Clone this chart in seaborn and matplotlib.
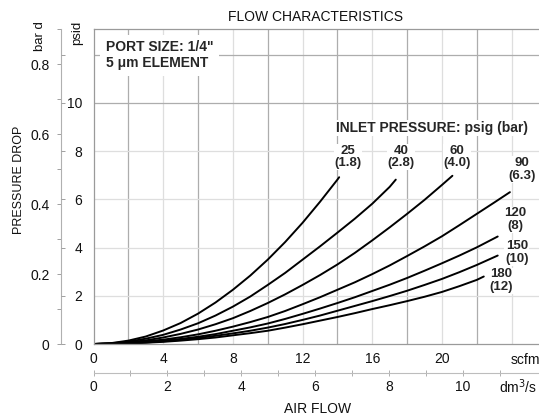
import numpy as np
import pandas as pd
import matplotlib
matplotlib.use("Agg")
import matplotlib.pyplot as plt
import seaborn as sns

# flow (scfm) and pressure drop (psid), one pair of lists per inlet pressure
flow_25 = [0, 1, 2, 3, 4, 5, 6, 7, 8, 9, 10, 11, 12, 13, 14, 14.1]
drop_25 = [0, 0.035, 0.14, 0.31, 0.56, 0.87, 1.26, 1.72, 2.25, 2.84, 3.5,
           4.23, 5.03, 5.9, 6.82, 6.92]
flow_40 = [0, 1, 2, 3, 4, 5, 6, 7, 8, 9, 10, 11, 12, 13, 14, 15, 16, 17, 17.35]
drop_40 = [0, 0.025, 0.1, 0.22, 0.38, 0.6, 0.86, 1.18, 1.55, 1.97, 2.45,
           2.95, 3.5, 4.05, 4.62, 5.2, 5.82, 6.52, 6.82]
flow_60 = [0, 1, 2, 3, 4, 5, 6, 7, 8, 9, 10, 11, 12, 13, 14, 15, 16, 17, 18,
           19, 20, 20.6]
drop_60 = [0, 0.018, 0.07, 0.15, 0.27, 0.42, 0.6, 0.82, 1.07, 1.37, 1.7,
           2.06, 2.45, 2.86, 3.3, 3.78, 4.3, 4.84, 5.4, 5.98, 6.6, 6.98]
flow_90 = [0, 1, 2, 3, 4, 5, 6, 7, 8, 9, 10, 11, 12, 13, 14, 15, 16, 17, 18,
           19, 20, 21, 22, 23, 23.9]
drop_90 = [0, 0.012, 0.05, 0.11, 0.18, 0.28, 0.4, 0.55, 0.72, 0.91, 1.12,
           1.37, 1.65, 1.94, 2.25, 2.56, 2.9, 3.26, 3.65, 4.05, 4.47, 4.93,
           5.4, 5.87, 6.3]
flow_120 = [0, 1, 2, 3, 4, 5, 6, 7, 8, 9, 10, 11, 12, 13, 14, 15, 16, 17, 18,
            19, 20, 21, 22, 23.2]
drop_120 = [0, 0.01, 0.04, 0.085, 0.14, 0.21, 0.3, 0.41, 0.55, 0.69, 0.85,
            1.04, 1.25, 1.47, 1.7, 1.94, 2.2, 2.46, 2.74, 3.04, 3.35, 3.67,
            4.01, 4.46]
flow_150 = [0, 1, 2, 3, 4, 5, 6, 7, 8, 9, 10, 11, 12, 13, 14, 15, 16, 17, 18,
            19, 20, 21, 22, 23.2]
drop_150 = [0, 0.008, 0.03, 0.065, 0.11, 0.17, 0.25, 0.34, 0.44, 0.55, 0.68,
            0.83, 1.0, 1.18, 1.38, 1.58, 1.78, 1.99, 2.21, 2.45, 2.7, 2.98,
            3.28, 3.67]
flow_180 = [0, 1, 2, 3, 4, 5, 6, 7, 8, 9, 10, 11, 12, 13, 14, 15, 16, 17, 18,
            19, 20, 21, 22, 22.4]
drop_180 = [0, 0.006, 0.025, 0.05, 0.09, 0.14, 0.2, 0.27, 0.36, 0.45, 0.55,
            0.68, 0.82, 0.97, 1.12, 1.28, 1.45, 1.61, 1.78, 1.96, 2.16, 2.4,
            2.66, 2.8]

inlet_psig = ["25", "40", "60", "90", "120", "150", "180"]
inlet_bar = ["(1.8)", "(2.8)", "(4.0)", "(6.3)", "(8)", "(10)", "(12)"]

psid_ticks = [0, 2, 4, 6, 8, 10]
bar_ticks = [0, 0.2, 0.4, 0.6, 0.8]
scfm_ticks = [0, 4, 8, 12, 16, 20]
dm3s_ticks = [0, 2, 4, 6, 8, 10]

flows = [flow_25, flow_40, flow_60, flow_90, flow_120, flow_150, flow_180]
drops = [drop_25, drop_40, drop_60, drop_90, drop_120, drop_150, drop_180]
df = pd.concat([pd.DataFrame({"scfm": f, "psid": d, "inlet": p})
                for f, d, p in zip(flows, drops, inlet_psig)])

PSI_PER_BAR = 14.5038
SCFM_PER_DM3S = 2.1189

W, H = 539, 415

sns.set_style("white")
plt.rcParams['font.family'] = ['Liberation Sans', 'DejaVu Sans']

fig = plt.figure(figsize=(W / 100, H / 100), dpi=100)
ax = fig.add_axes([93.5 / W, 71 / H, 445.5 / W, 315 / H])
ax.set_xlim(0, 25.57)
ax.set_ylim(0, 13.07)

# grid, darker and lighter lines
for x in [2, 6, 10, 14, 18, 22]:
    ax.axvline(x, color='#adadad', lw=0.9, zorder=0.5)
for x in [4, 8, 12, 16, 20, 24]:
    ax.axvline(x, color='#dedede', lw=0.9, zorder=0.5)
for y in [10, 12]:
    ax.axhline(y, color='#adadad', lw=0.9, zorder=0.5)
for y in [2, 4, 6, 8]:
    ax.axhline(y, color='#dedede', lw=0.9, zorder=0.5)

sns.lineplot(data=df, x="scfm", y="psid", hue="inlet", units="inlet",
             estimator=None, sort=False, palette=["black"] * 7,
             linewidth=1.4, legend=False, ax=ax, zorder=2)

ax.spines['right'].set_visible(False)
for s in ['top', 'left', 'bottom']:
    ax.spines[s].set_color('#9a9a9a')
    ax.spines[s].set_linewidth(0.9)

ax.set_xlabel("")
ax.set_ylabel("")
ax.set_yticks(psid_ticks)
ax.set_yticklabels([str(v) for v in psid_ticks])
ax.set_xticks(scfm_ticks)
ax.set_xticklabels([str(v) for v in scfm_ticks])
ax.tick_params(axis='y', length=0, pad=8, labelsize=10, colors='#111111')
ax.tick_params(axis='x', length=0, pad=6, labelsize=10, colors='#111111')

# bar d scale on its own line left of the psid labels
ax_bar = ax.secondary_yaxis(-33 / 445.5, functions=(lambda p: p / PSI_PER_BAR,
                                                     lambda b: b * PSI_PER_BAR))
ax_bar.set_yticks(bar_ticks)
ax_bar.set_yticklabels(["0", "0.2", "0.4", "0.6", "0.8"])
ax_bar.set_yticks([0.1, 0.3, 0.5, 0.7, 0.9], minor=True)
ax_bar.tick_params(which='both', direction='out', length=3, width=0.7,
                   color='#a0a0a0', labelsize=10, pad=5, labelcolor='#111111')
ax_bar.spines['left'].set_color('#b0b0b0')
ax_bar.spines['left'].set_linewidth(0.8)

ax_pt = ax.secondary_yaxis(-33 / 445.5)
ax_pt.set_yticks([0, 2, 4, 6, 8, 10, 12])
ax_pt.set_yticklabels([])
ax_pt.tick_params(direction='in', length=3, width=0.7, color='#a0a0a0')
ax_pt.spines['left'].set_visible(False)

# dm3/s scale below the scfm labels
ax_dm = ax.secondary_xaxis(-29 / 315, functions=(lambda q: q / SCFM_PER_DM3S,
                                                 lambda d: d * SCFM_PER_DM3S))
ax_dm.set_xticks(dm3s_ticks)
ax_dm.set_xticklabels([str(v) for v in dm3s_ticks])
ax_dm.set_xticks([1, 3, 5, 7, 9, 11], minor=True)
ax_dm.tick_params(which='both', direction='inout', length=4, width=0.7,
                  color='#b0b0b0', labelsize=10, pad=3, labelcolor='#111111')
ax_dm.spines['bottom'].set_color('#bdbdbd')
ax_dm.spines['bottom'].set_linewidth(0.8)


def px(x, y):
    return x / W, 1 - y / H


fig.text(*px(316, 17), "FLOW CHARACTERISTICS", ha='center', va='center',
         fontsize=10, color='#111111')
fig.text(*px(318, 409), "AIR FLOW", ha='center', va='center',
         fontsize=10, color='#111111')
fig.text(*px(19, 180), "PRESSURE DROP", ha='center', va='center',
         rotation=90, fontsize=9, color='#111111')
fig.text(*px(40, 36), "bar d", ha='center', va='center', rotation=90,
         fontsize=9.5, color='#111111')
fig.text(*px(77, 33), "psid", ha='center', va='center', rotation=90,
         fontsize=9.5, color='#111111')
fig.text(*px(525, 360), "scfm", ha='center', va='center',
         fontsize=10, color='#111111')
fig.text(*px(518, 387), "dm$^3$/s", ha='center', va='center',
         fontsize=10, color='#111111')

ax.text(0.7, 12.6, "PORT SIZE: 1/4\"\n5 \u03bcm ELEMENT", ha='left', va='top',
        fontsize=10, fontweight='bold', linespacing=1.15, zorder=3,
        bbox=dict(facecolor='white', edgecolor='none', pad=4))

ax.text(19.43, 8.96, "INLET PRESSURE: psig (bar)", ha='center', va='center',
        fontsize=10, fontweight='bold', zorder=3,
        bbox=dict(facecolor='white', edgecolor='none', pad=1))

label_xy = [(14.61, 7.76), (17.65, 7.76), (20.86, 7.76), (24.6, 7.24),
            (24.2, 5.15), (24.3, 3.78), (23.4, 2.63)]
for (lx, ly), p, b in zip(label_xy, inlet_psig, inlet_bar):
    ax.text(lx, ly, p + "\n" + b, ha='center', va='center', fontsize=9.5,
            fontweight='bold', linespacing=1.1, zorder=3,
            bbox=dict(facecolor='white', edgecolor='none', pad=0.5))

fig.savefig("out.png", dpi=100)
